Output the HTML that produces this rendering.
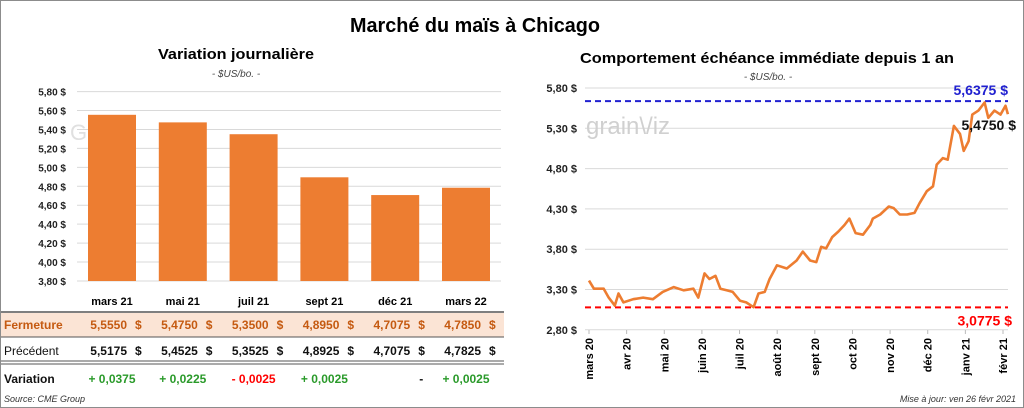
<!DOCTYPE html>
<html><head><meta charset="utf-8"><style>
html,body{margin:0;padding:0;background:#fff;}
svg{display:block;font-family:"Liberation Sans",sans-serif;}
</style></head><body>
<svg id="c" width="1024" height="408" viewBox="0 0 1024 408">
<rect x="0.5" y="0.5" width="1023" height="407" fill="#fff" stroke="#8c8c8c"/>
<text x="475" y="32" text-anchor="middle" font-size="20" font-weight="bold" textLength="250" lengthAdjust="spacingAndGlyphs">Marché du maïs à Chicago</text>
<text x="236" y="59" text-anchor="middle" font-size="15" font-weight="bold" textLength="156" lengthAdjust="spacingAndGlyphs">Variation  journalière</text>
<text x="236" y="77" text-anchor="middle" font-size="10" font-style="italic" fill="#444">- $US/bo. -</text>
<text x="767" y="63" text-anchor="middle" font-size="15" font-weight="bold" textLength="374" lengthAdjust="spacingAndGlyphs">Comportement  échéance immédiate  depuis 1 an</text>
<text x="768" y="80" text-anchor="middle" font-size="10" font-style="italic" fill="#444">- $US/bo. -</text>
<g id="left"></g>
<g id="table"></g>
<g id="right"></g>
<text x="4" y="402" font-size="9" font-style="italic" fill="#333">Source: CME Group</text>
<text x="1016" y="402" text-anchor="end" font-size="9" font-style="italic" fill="#333">Mise à jour: ven 26 févr 2021</text>
</svg>
<script>
const contracts=["mars 21","mai 21","juil 21","sept 21","déc 21","mars 22"];
const closeVals=[5.5550,5.4750,5.3500,4.8950,4.7075,4.7850];
const prevVals=[5.5175,5.4525,5.3525,4.8925,4.7075,4.7825];
const varLabels=["+ 0,0375","+ 0,0225","- 0,0025","+ 0,0025","-","+ 0,0025"];
const barTicks=[3.8,4.0,4.2,4.4,4.6,4.8,5.0,5.2,5.4,5.6,5.8];
const lineDays=[0,4,12,16,21,24,28,36,44,52,60,69,77,85,89,94,98,103,107,112,117,123,128,134,138,143,147,153,161,169,174,180,185,189,193,198,203,208,212,217,223,229,231,237,244,248,253,259,265,269,275,280,283,288,292,297,302,305,309,312,317,322,325,330,335,339,341];
const lineVals=[3.41,3.31,3.31,3.20,3.10,3.25,3.14,3.18,3.20,3.18,3.27,3.33,3.29,3.31,3.20,3.50,3.43,3.47,3.31,3.29,3.27,3.16,3.14,3.08,3.25,3.27,3.43,3.60,3.56,3.66,3.77,3.66,3.64,3.83,3.81,3.95,4.02,4.10,4.18,4.00,3.98,4.10,4.18,4.23,4.33,4.31,4.23,4.23,4.25,4.37,4.52,4.58,4.85,4.93,4.91,5.33,5.23,5.02,5.14,5.47,5.52,5.62,5.43,5.52,5.47,5.58,5.475];
const lineTicks=[2.8,3.3,3.8,4.3,4.8,5.3,5.8];
const monthLabels=["mars 20","avr 20","mai 20","juin 20","juil 20","août 20","sept 20","oct 20","nov 20","déc 20","janv 21","févr 21"];
const highVal=5.6375, lowVal=3.0775, lastVal=5.4750;

const NS="http://www.w3.org/2000/svg";
function mk(p,t,a,txt){const e=document.createElementNS(NS,t);for(const k in a)e.setAttribute(k,a[k]);if(txt!==undefined)e.textContent=txt;p.appendChild(e);return e;}
const fmt=(v,d)=>v.toFixed(d).replace('.',',');

const L=document.getElementById('left');
const by=v=>281-(v-3.8)*94.7;
const bx=i=>112+i*70.8;
barTicks.forEach(t=>{
  const g=mk(L,'line',{x1:77,x2:501,y1:by(t),y2:by(t),stroke:'#d9d9d9','stroke-width':1});
  
  
  const tx=mk(L,'text',{x:66,y:by(t)+4,'text-anchor':'end','font-size':10,'font-weight':'bold',fill:'#222'},fmt(t,2)+' $');
  
  
});
const wm=mk(L,'text',{x:70,y:140,'font-size':22,fill:'#e0e0e0'},'G');


closeVals.forEach((v,i)=>{
  const r=mk(L,'rect',{x:bx(i)-24,y:by(v),width:48,height:281-by(v),fill:'#ed7d31'});
  
  
  const t=mk(L,'text',{x:bx(i),y:305,'text-anchor':'middle','font-size':11,'font-weight':'bold'},contracts[i]);
  
  
});

const T=document.getElementById('table');
const band=mk(T,'rect',{x:1,y:313,width:503,height:24,fill:'#fbe4d5'});


[[312,'#555',1.5],[337,'#555',1],[361,'#555',1],[364,'#555',1]].forEach(l=>{
  const e=mk(T,'line',{x1:1,x2:504,y1:l[0],y2:l[0],stroke:l[1],'stroke-width':l[2]});
  
  
});
const rl=[['Fermeture',329,'#c55a11','bold'],['Précédent',355,'#111','normal'],['Variation',383,'#111','bold']];
rl.forEach(r=>{
  const e=mk(T,'text',{x:4,y:r[1],'font-size':12,'font-weight':r[3],fill:r[2]},r[0]);
  
  
});
contracts.forEach((c,i)=>{
  const cx=bx(i);
  const a=mk(T,'text',{x:cx+15,y:329,'text-anchor':'end','font-size':12,'font-weight':'bold',fill:'#c55a11'},fmt(closeVals[i],4));
  
  
  const a2=mk(T,'text',{x:cx+23,y:329,'font-size':12,'font-weight':'bold',fill:'#c55a11'},'$');
  
  
  const b=mk(T,'text',{x:cx+15,y:355,'text-anchor':'end','font-size':12,'font-weight':'bold',fill:'#111'},fmt(prevVals[i],4));
  
  
  const b2=mk(T,'text',{x:cx+23,y:355,'font-size':12,'font-weight':'bold',fill:'#111'},'$');
  
  
  const s=varLabels[i];
  const col=s==='-'?'#111':(s[0]==='+'?'#2a9a2a':'#ff0000');
  const v=mk(T,'text',{x:s==='-'?cx+28:cx,y:383,'text-anchor':s==='-'?'end':'middle','font-size':12,'font-weight':'bold',fill:col},s);
  
  
});

const R=document.getElementById('right');
const X0=589,X1=1003;
const lx=d=>X0+d*(X1-X0)/337;
const ly=v=>88+(5.8-v)*80.6;
lineTicks.forEach(t=>{
  const g=mk(R,'line',{x1:585,x2:1008,y1:ly(t),y2:ly(t),stroke:'#d9d9d9','stroke-width':1});
  
  
  const tx=mk(R,'text',{x:577,y:ly(t)+4,'text-anchor':'end','font-size':11,'font-weight':'bold',fill:'#222'},fmt(t,2)+' $');
  
  
});
const wm2=mk(R,'text',{x:586,y:134,'font-size':24,fill:'#d0d0d0'},'grain\\/iz');


monthLabels.forEach((m,i)=>{
  const x=X0+i*(X1-X0)/11;
  const tk=mk(R,'line',{x1:x,x2:x,y1:330,y2:334,stroke:'#bbb'});
  
  
  const t=mk(R,'text',{x:x+4,y:338,'text-anchor':'end','font-size':11,'font-weight':'bold',transform:`rotate(-90 ${x+4} 338)`},m);
  
  
});
const hl=mk(R,'line',{x1:585,x2:1008,y1:ly(highVal),y2:ly(highVal),stroke:'#2020d0','stroke-width':2,'stroke-dasharray':'6 4'});


const ll=mk(R,'line',{x1:585,x2:1008,y1:ly(lowVal),y2:ly(lowVal),stroke:'#ff0000','stroke-width':2,'stroke-dasharray':'6 4'});


const pts=lineDays.map((d,i)=>lx(d).toFixed(1)+','+ly(lineVals[i]).toFixed(1)).join(' ');
const pl=mk(R,'polyline',{points:pts,fill:'none',stroke:'#ed7d31','stroke-width':2.6,'stroke-linejoin':'round'});


const ht=mk(R,'text',{x:1008,y:ly(highVal)-6,'text-anchor':'end','font-size':14,'font-weight':'bold',fill:'#2020d0'},fmt(highVal,4)+' $');


const lt=mk(R,'text',{x:1012,y:ly(lowVal)+18,'text-anchor':'end','font-size':14,'font-weight':'bold',fill:'#ff0000'},fmt(lowVal,4)+' $');


const la=mk(R,'text',{x:1016,y:ly(lastVal)+16,'text-anchor':'end','font-size':14,'font-weight':'bold',fill:'#111'},fmt(lastVal,4)+' $');


</script>
</body></html>
